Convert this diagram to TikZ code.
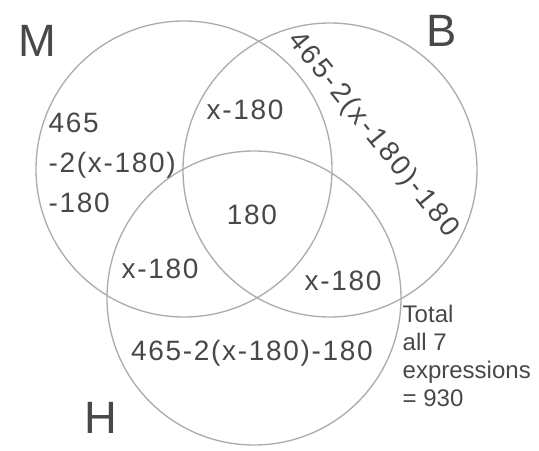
\documentclass[tikz,border=0pt]{standalone}
\usepackage{fontspec}
\setmainfont{Liberation Sans}
\usepackage{xcolor}
\definecolor{pencil}{RGB}{172, 172, 172}
\definecolor{graphite}{RGB}{72, 72, 72}
\usepackage{tikz}

\tikzset{
    setline/.style = {draw = pencil, line width = 1pt},
    expr/.style = {text = graphite, font = \fontsize{21}{30}\selectfont\addfontfeature{LetterSpace=6}},
    setname/.style = {text = graphite, font = \fontsize{34}{40}\selectfont}
}

\begin{document}
\begin{tikzpicture}[x = 0.75pt, y = -0.75pt]
                        \useasboundingbox (0,0) rectangle (539,450);

                        \coordinate (cM) at (184,169);
                        \coordinate (cB) at (330,170);
                        \coordinate (cH) at (254,298);
                        \draw[setline] (cM) circle (148);
                        \draw[setline] (cB) circle (147);
                        \draw[setline] (cH) circle (147);

                        \node[setname] (M) at (37,41) {M};
                        \node[setname] (B) at (442,31) {B};
                        \node[setname] (H) at (101,418) {H};

                        \node[expr, anchor = west, align = left] (mOnly) at (44,163) {465\\-2(x-180)\\-180};
                        \node[expr, rotate = -51, font = \fontsize{21}{30}\selectfont\addfontfeature{LetterSpace=9}] (bOnly) at (373,135) {465-2(x-180)-180};
                        \node[expr] (hOnly) at (252,353) {465-2(x-180)-180};
                        \node[expr] (mb) at (245,110) {x-180};
                        \node[expr] (mh) at (160,269) {x-180};
                        \node[expr] (bh) at (343,281) {x-180};
                        \node[expr] (mbh) at (252,215) {180};

                        \node[text = graphite, font = \fontsize{18}{21}\selectfont, anchor = north west, align = left] (total) at (398,300) {Total\\all 7\\expressions\\= 930};
                    \end{tikzpicture}
\end{document}
